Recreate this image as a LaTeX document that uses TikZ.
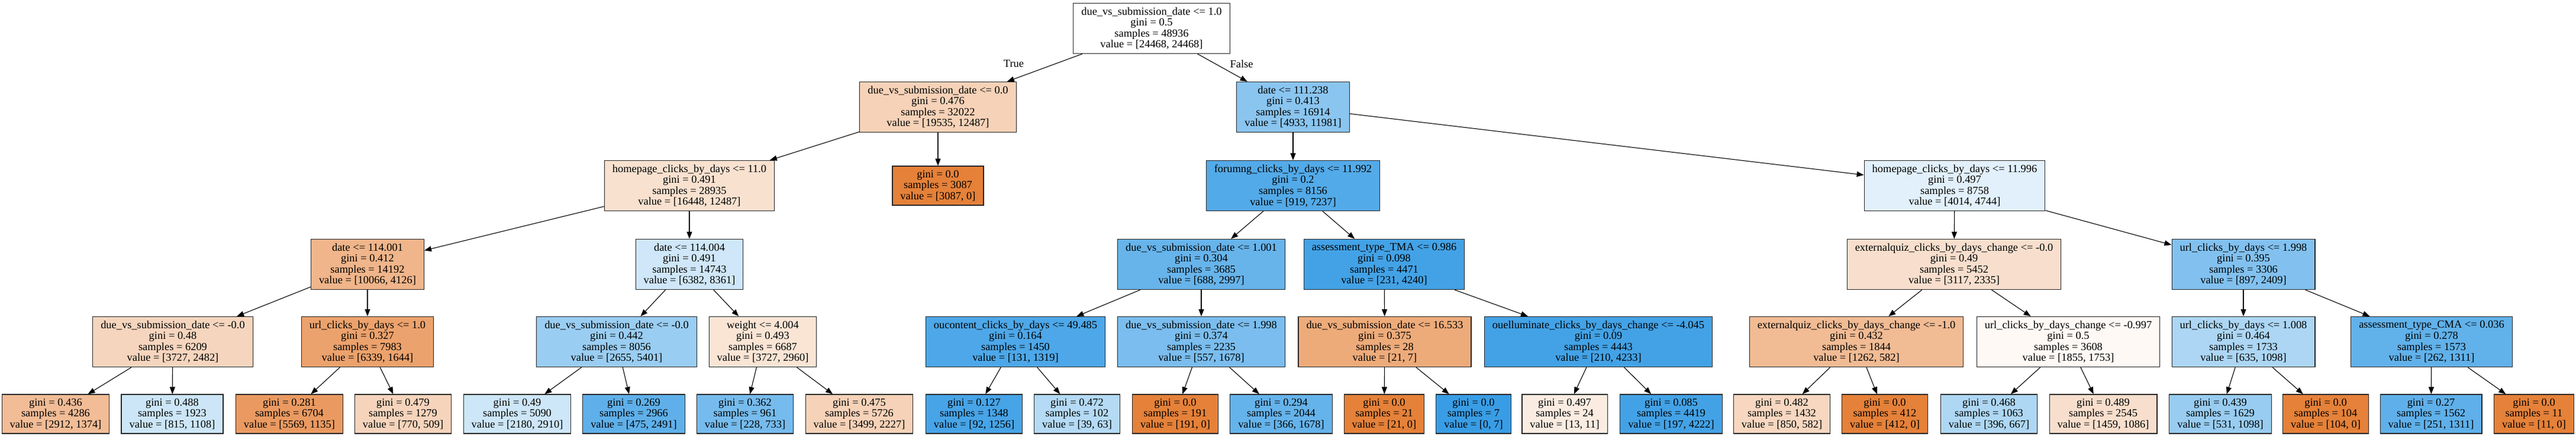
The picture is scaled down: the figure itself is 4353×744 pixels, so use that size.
\documentclass[tikz,border=0pt]{standalone}
\usepackage{fontspec}
\setmainfont{Liberation Serif}
\usetikzlibrary{arrows.meta}
\definecolor{orng}{HTML}{E58139}
\definecolor{blu}{HTML}{399DE5}
\tikzset{
  split/.style={draw=black!85, line width=1.2bp, fill=white, align=center,
    inner xsep=13.5bp, inner ysep=0bp, minimum height=85bp},
  leaf/.style={split, minimum height=66bp},
  cA/.style={fill=orng!#1},
  cB/.style={fill=blu!#1},
  link/.style={-{Triangle[length=12bp,width=9bp]}, line width=1.1bp}
}
\begin{document}
\begin{tikzpicture}[x=1bp, y=-1bp, font=\fontsize{18.5}{18.7}\selectfont]
      \useasboundingbox (0,0) rectangle (4353,744);
      \draw
        (1946,48) node[split] (0){due\_vs\_submission\_date <= 1.0\\gini = 0.5\\samples = 48936\\value = [24468, 24468]}
        (1585,181) node[split,cA=36] (1){due\_vs\_submission\_date <= 0.0\\gini = 0.476\\samples = 32022\\value = [19535, 12487]}
        (1165,314) node[split,cA=24] (2){homepage\_clicks\_by\_days <= 11.0\\gini = 0.491\\samples = 28935\\value = [16448, 12487]}
        (621,447) node[split,cA=59] (3){date <= 114.001\\gini = 0.412\\samples = 14192\\value = [10066, 4126]}
        (292,578) node[split,cA=33] (4){due\_vs\_submission\_date <= -0.0\\gini = 0.48\\samples = 6209\\value = [3727, 2482]}
        (94,700) node[leaf,cA=53] (5){gini = 0.436\\samples = 4286\\value = [2912, 1374]}
        (291,700) node[leaf,cB=26] (6){gini = 0.488\\samples = 1923\\value = [815, 1108]}
        (621,578) node[split,cA=74] (7){url\_clicks\_by\_days <= 1.0\\gini = 0.327\\samples = 7983\\value = [6339, 1644]}
        (489,700) node[leaf,cA=80] (8){gini = 0.281\\samples = 6704\\value = [5569, 1135]}
        (681,700) node[leaf,cA=34] (9){gini = 0.479\\samples = 1279\\value = [770, 509]}
        (1165,447) node[split,cB=24] (10){date <= 114.004\\gini = 0.491\\samples = 14743\\value = [6382, 8361]}
        (1042,578) node[split,cB=51] (11){due\_vs\_submission\_date <= -0.0\\gini = 0.442\\samples = 8056\\value = [2655, 5401]}
        (874,700) node[leaf,cB=25] (12){gini = 0.49\\samples = 5090\\value = [2180, 2910]}
        (1071,700) node[leaf,cB=81] (13){gini = 0.269\\samples = 2966\\value = [475, 2491]}
        (1289,578) node[split,cA=21] (14){weight <= 4.004\\gini = 0.493\\samples = 6687\\value = [3727, 2960]}
        (1259,700) node[leaf,cB=69] (15){gini = 0.362\\samples = 961\\value = [228, 733]}
        (1452,700) node[leaf,cA=36] (16){gini = 0.475\\samples = 5726\\value = [3499, 2227]}
        (1585,314) node[leaf,cA=100] (17){gini = 0.0\\samples = 3087\\value = [3087, 0]}
        (2185,181) node[split,cB=59] (18){date <= 111.238\\gini = 0.413\\samples = 16914\\value = [4933, 11981]}
        (2185,314) node[split,cB=87] (19){forumng\_clicks\_by\_days <= 11.992\\gini = 0.2\\samples = 8156\\value = [919, 7237]}
        (2030,447) node[split,cB=77] (20){due\_vs\_submission\_date <= 1.001\\gini = 0.304\\samples = 3685\\value = [688, 2997]}
        (1716,578) node[split,cB=90] (21){oucontent\_clicks\_by\_days <= 49.485\\gini = 0.164\\samples = 1450\\value = [131, 1319]}
        (1646,700) node[leaf,cB=93] (22){gini = 0.127\\samples = 1348\\value = [92, 1256]}
        (1820,700) node[leaf,cB=38] (23){gini = 0.472\\samples = 102\\value = [39, 63]}
        (2030,578) node[split,cB=67] (24){due\_vs\_submission\_date <= 1.998\\gini = 0.374\\samples = 2235\\value = [557, 1678]}
        (1986,700) node[leaf,cA=100] (25){gini = 0.0\\samples = 191\\value = [191, 0]}
        (2165,700) node[leaf,cB=78] (26){gini = 0.294\\samples = 2044\\value = [366, 1678]}
        (2339,447) node[split,cB=95] (27){assessment\_type\_TMA <= 0.986\\gini = 0.098\\samples = 4471\\value = [231, 4240]}
        (2340,578) node[split,cA=67] (28){due\_vs\_submission\_date <= 16.533\\gini = 0.375\\samples = 28\\value = [21, 7]}
        (2339,700) node[leaf,cA=100] (29){gini = 0.0\\samples = 21\\value = [21, 0]}
        (2490,700) node[leaf,cB=100] (30){gini = 0.0\\samples = 7\\value = [0, 7]}
        (2701,578) node[split,cB=95] (31){ouelluminate\_clicks\_by\_days\_change <= -4.045\\gini = 0.09\\samples = 4443\\value = [210, 4233]}
        (2644,700) node[leaf,cA=15] (32){gini = 0.497\\samples = 24\\value = [13, 11]}
        (2824,700) node[leaf,cB=95] (33){gini = 0.085\\samples = 4419\\value = [197, 4222]}
        (3303,314) node[split,cB=15] (34){homepage\_clicks\_by\_days <= 11.996\\gini = 0.497\\samples = 8758\\value = [4014, 4744]}
        (3302,447) node[split,cA=25] (35){externalquiz\_clicks\_by\_days\_change <= -0.0\\gini = 0.49\\samples = 5452\\value = [3117, 2335]}
        (3137,578) node[split,cA=54] (36){externalquiz\_clicks\_by\_days\_change <= -1.0\\gini = 0.432\\samples = 1844\\value = [1262, 582]}
        (3011,700) node[leaf,cA=32] (37){gini = 0.482\\samples = 1432\\value = [850, 582]}
        (3185,700) node[leaf,cA=100] (38){gini = 0.0\\samples = 412\\value = [412, 0]}
        (3495,578) node[split,cA=5] (39){url\_clicks\_by\_days\_change <= -0.997\\gini = 0.5\\samples = 3608\\value = [1855, 1753]}
        (3361,700) node[leaf,cB=41] (40){gini = 0.468\\samples = 1063\\value = [396, 667]}
        (3554,700) node[leaf,cA=26] (41){gini = 0.489\\samples = 2545\\value = [1459, 1086]}
        (3791,447) node[split,cB=63] (42){url\_clicks\_by\_days <= 1.998\\gini = 0.395\\samples = 3306\\value = [897, 2409]}
        (3791,578) node[split,cB=42] (43){url\_clicks\_by\_days <= 1.008\\gini = 0.464\\samples = 1733\\value = [635, 1098]}
        (3752,700) node[leaf,cB=52] (44){gini = 0.439\\samples = 1629\\value = [531, 1098]}
        (3930,700) node[leaf,cA=100] (45){gini = 0.0\\samples = 104\\value = [104, 0]}
        (4109,578) node[split,cB=80] (46){assessment\_type\_CMA <= 0.036\\gini = 0.278\\samples = 1573\\value = [262, 1311]}
        (4108,700) node[leaf,cB=81] (47){gini = 0.27\\samples = 1562\\value = [251, 1311]}
        (4282,700) node[leaf,cA=100] (48){gini = 0.0\\samples = 11\\value = [11, 0]};
      \node (t) at (1713,108) {True};
      \node (f) at (2098,108) {False};
      \begin{scope}[link]
        \draw (0) to (1);
        \draw (0) to (18);
        \draw (1) to (2);
        \draw (1) to (17);
        \draw (2) to (3);
        \draw (2) to (10);
        \draw (3) to (4);
        \draw (3) to (7);
        \draw (4) to (5);
        \draw (4) to (6);
        \draw (7) to (8);
        \draw (7) to (9);
        \draw (10) to (11);
        \draw (10) to (14);
        \draw (11) to (12);
        \draw (11) to (13);
        \draw (14) to (15);
        \draw (14) to (16);
        \draw (18) to (19);
        \draw (18) to (34);
        \draw (19) to (20);
        \draw (19) to (27);
        \draw (20) to (21);
        \draw (20) to (24);
        \draw (21) to (22);
        \draw (21) to (23);
        \draw (24) to (25);
        \draw (24) to (26);
        \draw (27) to (28);
        \draw (27) to (31);
        \draw (28) to (29);
        \draw (28) to (30);
        \draw (31) to (32);
        \draw (31) to (33);
        \draw (34) to (35);
        \draw (34) to (42);
        \draw (35) to (36);
        \draw (35) to (39);
        \draw (36) to (37);
        \draw (36) to (38);
        \draw (39) to (40);
        \draw (39) to (41);
        \draw (42) to (43);
        \draw (42) to (46);
        \draw (43) to (44);
        \draw (43) to (45);
        \draw (46) to (47);
        \draw (46) to (48);
      \end{scope}
    \end{tikzpicture}
\end{document}
